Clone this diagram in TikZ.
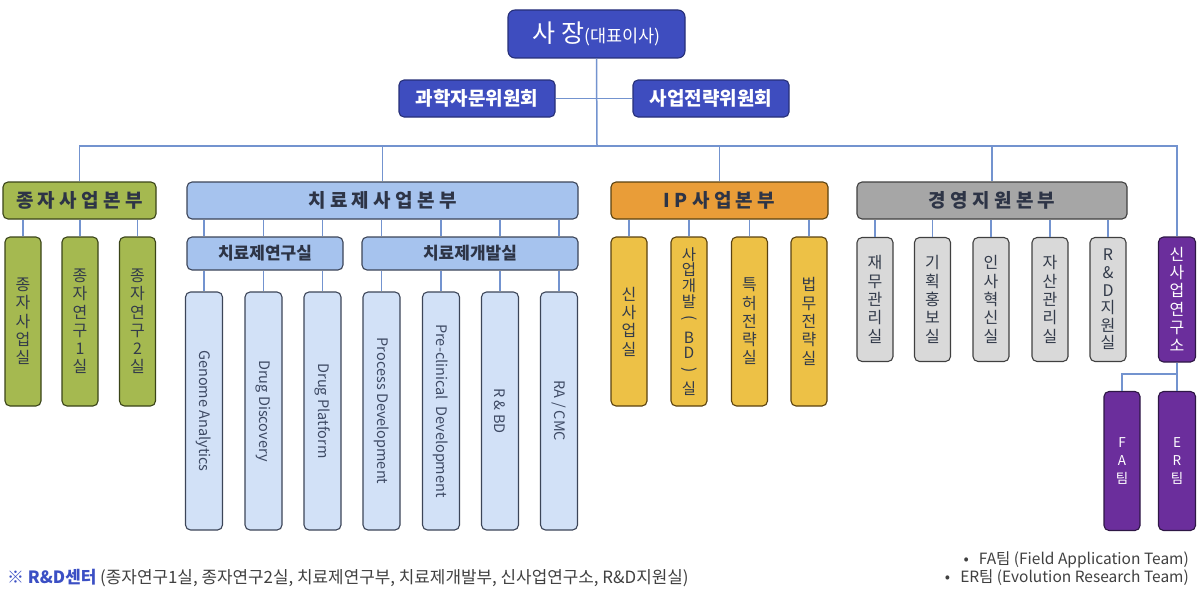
\documentclass[tikz,border=0pt]{standalone}
\usepackage{fontspec}
\usepackage{graphicx}
\setmainfont{Noto Sans CJK KR}
\definecolor{ceoc}{HTML}{3E4DBF}
\definecolor{ceod}{HTML}{262F78}
\definecolor{connc}{HTML}{7393CF}
\definecolor{greenc}{HTML}{A5B950}
\definecolor{greend}{HTML}{3A4418}
\definecolor{trtc}{HTML}{A6C3EE}
\definecolor{leafc}{HTML}{D2E1F7}
\definecolor{trtd}{HTML}{3C4558}
\definecolor{orangec}{HTML}{E99D38}
\definecolor{yellowc}{HTML}{EDC146}
\definecolor{orangd}{HTML}{5A4210}
\definecolor{greyc}{HTML}{A6A6A6}
\definecolor{lgreyc}{HTML}{D9D9D9}
\definecolor{greyd}{HTML}{404040}
\definecolor{purplec}{HTML}{6B2E9C}
\definecolor{purpled}{HTML}{2E1745}
\definecolor{hdrtext}{HTML}{2D3446}
\definecolor{kidtext}{HTML}{333B4A}
\definecolor{leaftext}{HTML}{3E4A64}
\definecolor{noteb}{HTML}{3B4FC4}
\definecolor{notec}{HTML}{404040}
\newcommand{\vparen}[1]{\rotatebox[origin=c]{-90}{#1}}
\begin{document}
\begin{tikzpicture}[x=1pt,y=-1pt,
  base/.style={rounded corners=5pt, line width=1.1pt, inner sep=0pt, align=center},
  cmt/.style={base, fill=ceoc, draw=ceod, text=white, minimum width=156pt, minimum height=37pt,
    font=\fontsize{19}{22}\selectfont\bfseries},
  hdr/.style={base, minimum height=37pt, text=hdrtext, font=\fontsize{19}{21}\selectfont\bfseries},
  subh/.style={base, fill=trtc, draw=trtd, minimum height=33pt, text=hdrtext, font=\fontsize{17}{19}\selectfont\bfseries},
  kid/.style={base, minimum width=36pt, text=kidtext, font=\fontsize{16}{18.3}\selectfont},
  greenkid/.style={kid, fill=greenc, draw=greend, minimum height=169pt},
  yellowkid/.style={kid, fill=yellowc, draw=orangd, minimum height=169pt},
  greykid/.style={kid, fill=lgreyc, draw=greyd, minimum height=124pt},
  purplekid/.style={kid, fill=purplec, draw=purpled, text=white},
  leaf/.style={base, rotate=-90, fill=leafc, draw=trtd, text=leaftext, font=\fontsize{14.5}{16}\selectfont,
    minimum width=238pt, minimum height=37pt},
  conn/.style={draw=connc, line width=1.5pt}
]
\useasboundingbox (0,0) rectangle (1198,594);

% top
\node[base, fill=ceoc, draw=ceod, text=white, minimum width=177pt, minimum height=48pt, rounded corners=7pt] (ceo) at (596.5,34)
  {\fontsize{25}{28}\selectfont 사 장\fontsize{17.5}{20}\selectfont(대표이사)};
\node[cmt] (sci) at (477,98.5) {과학자문위원회};
\node[cmt] (biz) at (711,98.5) {사업전략위원회};
\coordinate (bus) at (597,146);

% division headers
\node[hdr, fill=greenc, draw=greend, minimum width=153pt] (seed) at (79.5,200.5) {종 자 사 업 본 부};
\node[hdr, fill=trtc, draw=trtd, minimum width=391pt] (trt) at (382.5,200.5) {치 료 제 사 업 본 부};
\node[hdr, fill=orangec, draw=orangd, minimum width=217pt] (ip) at (719.5,200.5) {I P 사 업 본 부};
\node[hdr, fill=greyc, draw=greyd, minimum width=270pt] (mgmt) at (992,200.5) {경 영 지 원 본 부};

% seed children
\node[greenkid] (s1) at (23,321.5) {종\\자\\사\\업\\실};
\node[greenkid] (s2) at (80,321.5) {종\\자\\연\\구\\1\\실};
\node[greenkid] (s3) at (137.5,321.5) {종\\자\\연\\구\\2\\실};

% treatment sub-headers
\node[subh, minimum width=156pt] (res) at (265,253.5) {치료제연구실};
\node[subh, minimum width=216pt] (dev) at (470,253.5) {치료제개발실};

% treatment leaves
\node[leaf] (ga) at (204,411) {Genome Analytics};
\node[leaf] (dd) at (263.5,411) {Drug Discovery};
\node[leaf] (dp) at (322.5,411) {Drug Platform};
\node[leaf] (pd) at (381.5,411) {Process Development};
\node[leaf] (pc) at (441,411) {Pre-clinical\ \ Development};
\node[leaf] (rb) at (500,411) {R\ \&\ BD};
\node[leaf] (ra) at (559,411) {RA / CMC};

% IP children
\node[yellowkid] (i1) at (629,321.5) {신\\사\\업\\실};
\node[yellowkid, font=\fontsize{15.5}{15.8}\selectfont] (i2) at (689,321.5)
  {사\\업\\개\\발\\\vparen{(}\\[4pt]B\\D\\\vparen{)}\\[4pt]실};
\node[yellowkid] (i3) at (749.5,321.5) {특\\허\\전\\략\\실};
\node[yellowkid] (i4) at (809,321.5) {법\\무\\전\\략\\실};

% management children
\node[greykid] (m1) at (875,299.5) {재\\무\\관\\리\\실};
\node[greykid] (m2) at (932.5,299.5) {기\\획\\홍\\보\\실};
\node[greykid] (m3) at (991,299.5) {인\\사\\혁\\신\\실};
\node[greykid] (m4) at (1050,299.5) {자\\산\\관\\리\\실};
\node[greykid, font=\fontsize{16}{17.6}\selectfont] (m5) at (1108,299.5) {R\\\&\\D\\지\\원\\실};

% new business lab
\node[purplekid, minimum width=37pt, minimum height=125pt] (nrc) at (1177,299.5) {신\\사\\업\\연\\구\\소};
\node[purplekid, minimum height=139pt, font=\fontsize{13.5}{18}\selectfont] (fa) at (1122,461) {F\\A\\팀};
\node[purplekid, minimum width=37pt, minimum height=139pt, font=\fontsize{13.5}{18}\selectfont] (er) at (1177,461) {E\\R\\팀};
\coordinate (fork) at (1177,374);

% connectors
\draw[conn] (ceo.south) -- (bus);
\draw[conn] (sci.east) -- (biz.west);
\draw[conn] (seed.north) |- (bus) -| (nrc.north);
\draw[conn] (trt.north) -- (trt.north |- bus);
\draw[conn] (ip.north) -- (ip.north |- bus);
\draw[conn] (mgmt.north) -- (mgmt.north |- bus);
\foreach \k in {s1,s2,s3} \draw[conn] (\k.north) -- (\k.north |- seed.south);
\foreach \k in {ga,dd,dp} {
  \draw[conn] (\k.west |- trt.south) -- (\k.west |- res.north);
  \draw[conn] (\k.west |- res.south) -- (\k.west);
}
\foreach \k in {pd,pc,rb,ra} {
  \draw[conn] (\k.west |- trt.south) -- (\k.west |- dev.north);
  \draw[conn] (\k.west |- dev.south) -- (\k.west);
}
\foreach \k in {i1,i2,i3,i4} \draw[conn] (\k.north) -- (\k.north |- ip.south);
\foreach \k in {m1,m2,m3,m4,m5} \draw[conn] (\k.north) -- (\k.north |- mgmt.south);
\draw[conn] (nrc.south) -- (er.north);
\draw[conn] (fa.north) |- (fork);

% notes
\node[anchor=west, inner sep=0pt, text=notec, font=\fontsize{16.9}{19}\selectfont] (rdnote) at (7,578)
  {\textcolor{noteb}{\bfseries ※ R\&D센터} (종자연구1실, 종자연구2실, 치료제연구부, 치료제개발부, 신사업연구소, R\&D지원실)};
\node[anchor=east, inner sep=0pt, text=notec, font=\fontsize{15.5}{18}\selectfont] (fanote) at (1189,560)
  {•\hspace{10pt}FA팀 (Field Application Team)};
\node[anchor=east, inner sep=0pt, text=notec, font=\fontsize{15.5}{18}\selectfont] (ernote) at (1189,578)
  {•\hspace{10pt}ER팀 (Evolution Research Team)};
\end{tikzpicture}
\end{document}
